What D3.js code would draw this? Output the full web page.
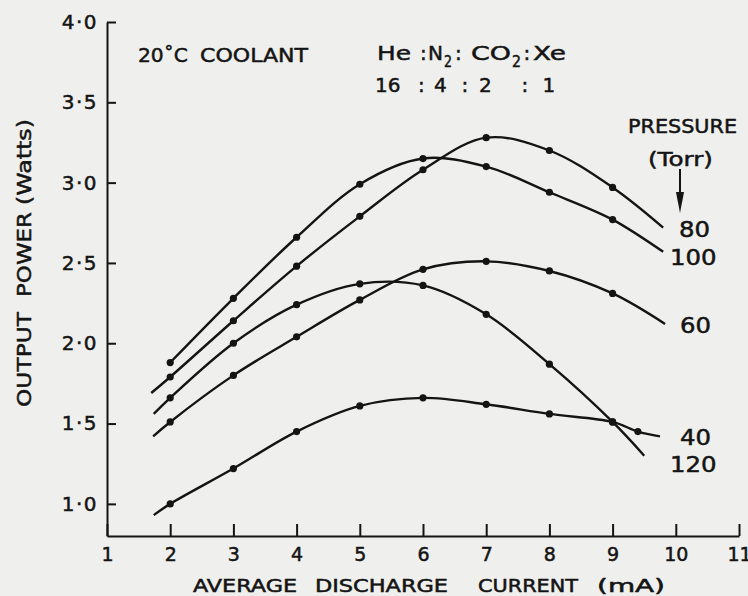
<!DOCTYPE html>
<html>
<head>
<meta charset="utf-8">
<script src="https://cdn.jsdelivr.net/npm/d3@7"></script>
<style>
  body { margin: 0; background: #efefed; }
  svg { display: block; }
  text { font-family: "DejaVu Sans", sans-serif; fill: #141414; stroke: #141414; stroke-width: 0.5px; }
</style>
</head>
<body>
<svg id="chart" width="748" height="596"></svg>
<script>
// ticks
var xTicks = [1, 2, 3, 4, 5, 6, 7, 8, 9, 10, 11];
var yTicks = [1.0, 1.5, 2.0, 2.5, 3.0, 3.5, 4.0];

// measured points (current mA, power W) for each pressure (Torr)
var pressures = [40, 60, 80, 100, 120];
var dots40  = [[2, 1.00], [3, 1.22], [4, 1.45], [5, 1.61], [6, 1.66], [7, 1.62], [8, 1.56], [9, 1.51], [9.4, 1.45]];
var dots60  = [[2, 1.51], [3, 1.80], [4, 2.04], [5, 2.27], [6, 2.46], [7, 2.51], [8, 2.45], [9, 2.31]];
var dots80  = [[2, 1.79], [3, 2.14], [4, 2.48], [5, 2.79], [6, 3.08], [7, 3.28], [8, 3.20], [9, 2.97]];
var dots100 = [[2, 1.88], [3, 2.28], [4, 2.66], [5, 2.99], [6, 3.15], [7, 3.10], [8, 2.94], [9, 2.77]];
var dots120 = [[2, 1.66], [3, 2.00], [4, 2.24], [5, 2.37], [6, 2.36], [7, 2.18], [8, 1.87], [9, 1.51]];

// where the drawn curves begin and end
var curveStart = [[1.74, 0.93], [1.73, 1.42], [1.70, 1.69], null, [1.74, 1.56]];
var curveEnd   = [[9.75, 1.42], [9.83, 2.12], [9.80, 2.72], [9.80, 2.57], [9.50, 1.30]];

var allDots = [dots40, dots60, dots80, dots100, dots120];

var svg = d3.select("#chart"),
    ink = "#141414";

var x = d3.scaleLinear().domain([1, 11]).range([107, 739]),
    y = d3.scaleLinear().domain([0.8, 4.0]).range([536, 22]);

// x axis, ticks pointing up
var xAxis = svg.append("g")
    .attr("transform", "translate(0,536)")
    .call(d3.axisBottom(x).tickValues(xTicks).tickSize(-12).tickSizeOuter(0).tickPadding(12)
        .tickFormat(d3.format("d")));

// y axis, ticks pointing right
var yAxis = svg.append("g")
    .attr("transform", "translate(107,0)")
    .call(d3.axisLeft(y).tickValues(yTicks).tickSize(-9).tickSizeOuter(0).tickPadding(9)
        .tickFormat(function (d) { return d3.format(".1f")(d).replace(".", "\u00b7"); }));

[xAxis, yAxis].forEach(function (g) {
    g.selectAll("path, line").attr("stroke", ink).attr("stroke-width", 2);
    g.selectAll("text").attr("font-size", 19).attr("font-family", "DejaVu Sans")
        .attr("fill", ink).attr("stroke", ink).attr("stroke-width", 0.5);
});
yAxis.selectAll("text").attr("font-size", 20).attr("letter-spacing", 1.5);

// curves
var line = d3.line()
    .x(function (d) { return x(d[0]); })
    .y(function (d) { return y(d[1]); })
    .curve(d3.curveCatmullRom.alpha(0.5));

allDots.forEach(function (dots, i) {
    var pts = dots.slice();
    if (curveStart[i]) pts.unshift(curveStart[i]);
    pts.push(curveEnd[i]);
    svg.append("path")
        .attr("d", line(pts))
        .attr("fill", "none")
        .attr("stroke", ink)
        .attr("stroke-width", 2.4);
    svg.selectAll(null)
        .data(dots)
        .enter().append("circle")
        .attr("cx", function (d) { return x(d[0]); })
        .attr("cy", function (d) { return y(d[1]); })
        .attr("r", 3.6)
        .attr("fill", ink);
});

// pressure labels next to the line ends
var labelPos = [[680, 445], [680, 333], [679, 237], [670, 265], [670, 472]];
pressures.forEach(function (p, i) {
    svg.append("text")
        .attr("x", labelPos[i][0])
        .attr("y", labelPos[i][1])
        .attr("font-size", 21)
        .attr("textLength", String(p).length * 15.5)
        .attr("lengthAdjust", "spacingAndGlyphs")
        .text(p);
});

// axis titles
var xWords = [["AVERAGE", 193, 104], ["DISCHARGE", 315, 133], ["CURRENT", 478, 100], ["(mA)", 597, 68]];
xWords.forEach(function (w) {
    svg.append("text")
        .attr("x", w[1]).attr("y", 592)
        .attr("font-size", 17)
        .attr("textLength", w[2])
        .attr("lengthAdjust", "spacingAndGlyphs")
        .text(w[0]);
});

var yWords = [["OUTPUT", 407, 95], ["POWER", 297, 85], ["(Watts)", 205, 86]];
yWords.forEach(function (w) {
    svg.append("text")
        .attr("transform", "translate(31," + w[1] + ") rotate(-90)")
        .attr("font-size", 20)
        .attr("textLength", w[2])
        .attr("lengthAdjust", "spacingAndGlyphs")
        .text(w[0]);
});

// notes
svg.append("text")
    .attr("x", 138).attr("y", 62)
    .attr("font-size", 20)
    .attr("textLength", 50)
    .attr("lengthAdjust", "spacingAndGlyphs")
    .text("20\u02daC");
svg.append("text")
    .attr("x", 200).attr("y", 62)
    .attr("font-size", 20)
    .attr("textLength", 108)
    .attr("lengthAdjust", "spacingAndGlyphs")
    .text("COOLANT");

// gas mix, pieces placed as in the figure: text, x, y, size, width
var gasParts = [["He", 377, 60, 20, 34], [":", 420, 60, 20], ["N", 428, 60, 20, 15], ["2", 444, 67, 15, 8],
                [":", 455, 60, 20], ["CO", 471, 60, 20, 40], ["2", 512, 67, 15, 9], [":", 523.5, 60, 20], ["Xe", 533, 60, 20, 33]];
var mixParts = [["16", 375, 92, 20], [":", 418, 92, 20], ["4", 434, 92, 20], [":", 461.5, 92, 20],
                ["2", 479, 92, 20], [":", 521.5, 92, 20], ["1", 542.5, 92, 20]];
gasParts.concat(mixParts).forEach(function (t) {
    var el = svg.append("text")
        .attr("x", t[1]).attr("y", t[2])
        .attr("font-size", t[3])
        .text(t[0]);
    if (t[4]) el.attr("textLength", t[4]).attr("lengthAdjust", "spacingAndGlyphs");
});

svg.append("text")
    .attr("x", 628).attr("y", 133)
    .attr("font-size", 19)
    .attr("textLength", 109)
    .attr("lengthAdjust", "spacingAndGlyphs")
    .text("PRESSURE");

svg.append("text")
    .attr("x", 648).attr("y", 166)
    .attr("font-size", 20)
    .attr("textLength", 65)
    .attr("lengthAdjust", "spacingAndGlyphs")
    .text("(Torr)");

// arrow under (Torr)
svg.append("line")
    .attr("x1", 680).attr("y1", 169).attr("x2", 680).attr("y2", 200)
    .attr("stroke", ink).attr("stroke-width", 2);
svg.append("path")
    .attr("d", "M676,192 L680,213 L684,192 Z")
    .attr("fill", ink);
</script>
</body>
</html>
